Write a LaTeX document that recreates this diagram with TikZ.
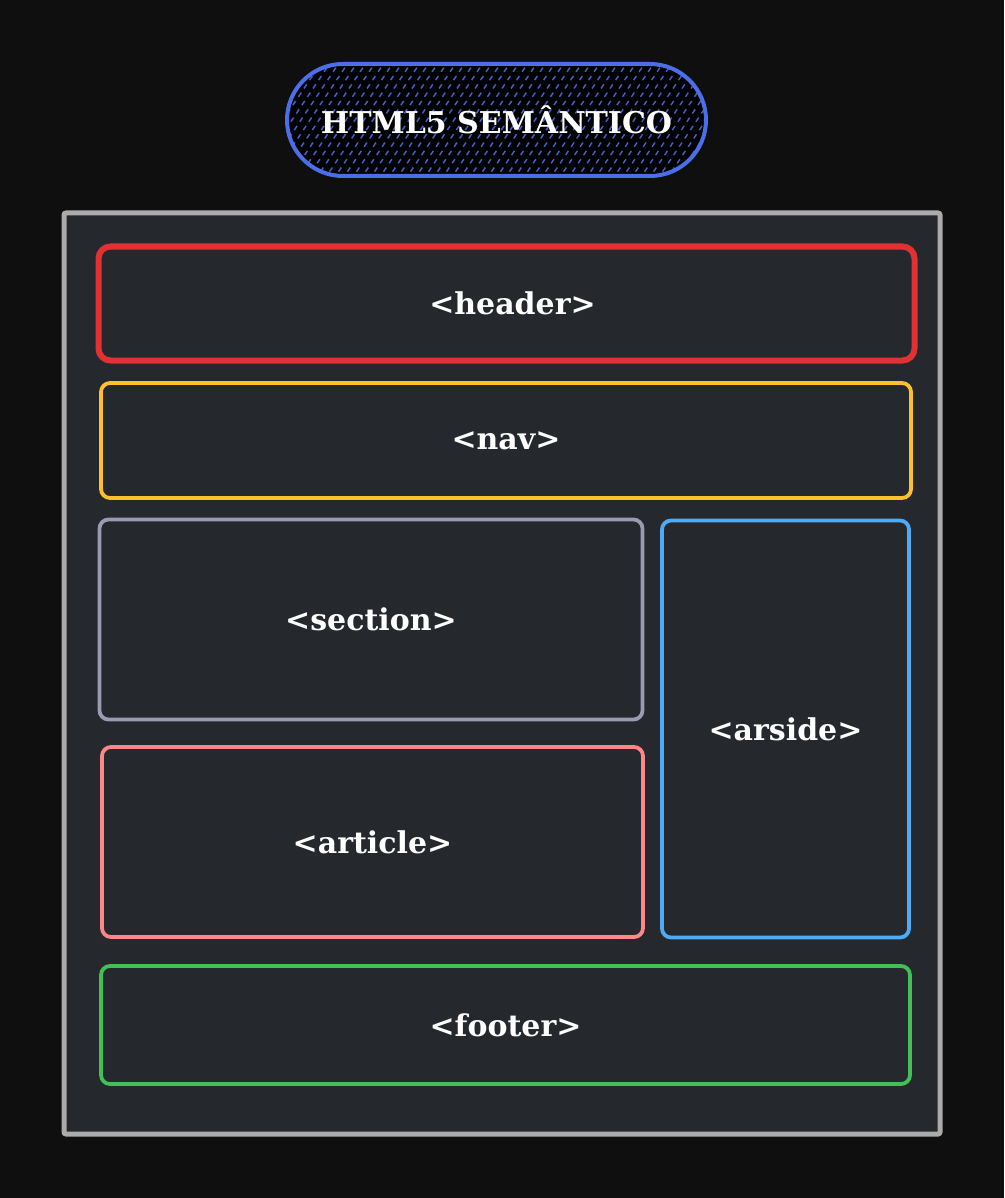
\documentclass[tikz,border=0pt]{standalone}
\usepackage{fontspec}
\setmainfont{DejaVu Serif}
\definecolor{bgdark}{HTML}{0F0F0F}
\definecolor{panel}{HTML}{25282D}
\definecolor{framegray}{HTML}{ABABAB}
\definecolor{titleblue}{HTML}{4A6FE8}
\definecolor{hatchblue}{HTML}{4462CC}
\definecolor{headerred}{HTML}{E03232}
\definecolor{navyellow}{HTML}{FFC02E}
\definecolor{sectiongray}{HTML}{9A9BB0}
\definecolor{articlepink}{HTML}{FF8787}
\definecolor{asideblue}{HTML}{4DABF7}
\definecolor{footergreen}{HTML}{40C057}
\begin{document}
\begin{tikzpicture}[x=1pt,y=-1pt,
  tag/.style={draw,rounded corners=9pt,line width=3.8pt,fill=panel,text=white,
    font=\fontsize{30}{36}\selectfont\bfseries,inner sep=0pt},
  pill/.style={draw=titleblue,line width=4pt,rounded corners=56pt,text=white,
    minimum width=419pt,minimum height=112pt,
    font=\fontsize{30}{36}\selectfont\bfseries}]
\useasboundingbox[fill=bgdark] (0,0) rectangle (1004,1198);

% title
\path[fill=black,rounded corners=56pt] (287,64) rectangle (706,176);
\begin{scope}
\path[clip,rounded corners=56pt] (287,64) rectangle (706,176);
\foreach \i in {180,189,...,760}
  \path[draw,hatchblue,line width=1.4pt,dash pattern=on 5pt off 5pt] (\i,180) -- (\i+80,60);
\end{scope}
\node[pill] (title) at (496.5,120) {HTML5 SEMÂNTICO};

% page
\path[draw=framegray,fill=panel,line width=5pt,rounded corners=2pt] (64,213) rectangle (940,1134);

\node[tag,draw=headerred,line width=6pt,rounded corners=12pt,minimum width=816pt,minimum height=114pt] (header) at (506.5,303.5) {\hspace*{12pt}<header>};
\node[tag,draw=navyellow,minimum width=810pt,minimum height=115pt] (nav) at (506,440.5) {<nav>};
\node[tag,draw=sectiongray,minimum width=543pt,minimum height=200pt] (section) at (371,619.5) {<section>};
\node[tag,draw=articlepink,minimum width=541pt,minimum height=190pt] (article) at (372.5,842) {<article>};
\node[tag,draw=asideblue,minimum width=247pt,minimum height=417pt] (aside) at (785.5,729) {<arside>};
\node[tag,draw=footergreen,minimum width=809pt,minimum height=118pt] (footer) at (505.5,1025) {<footer>};

\end{tikzpicture}
\end{document}
